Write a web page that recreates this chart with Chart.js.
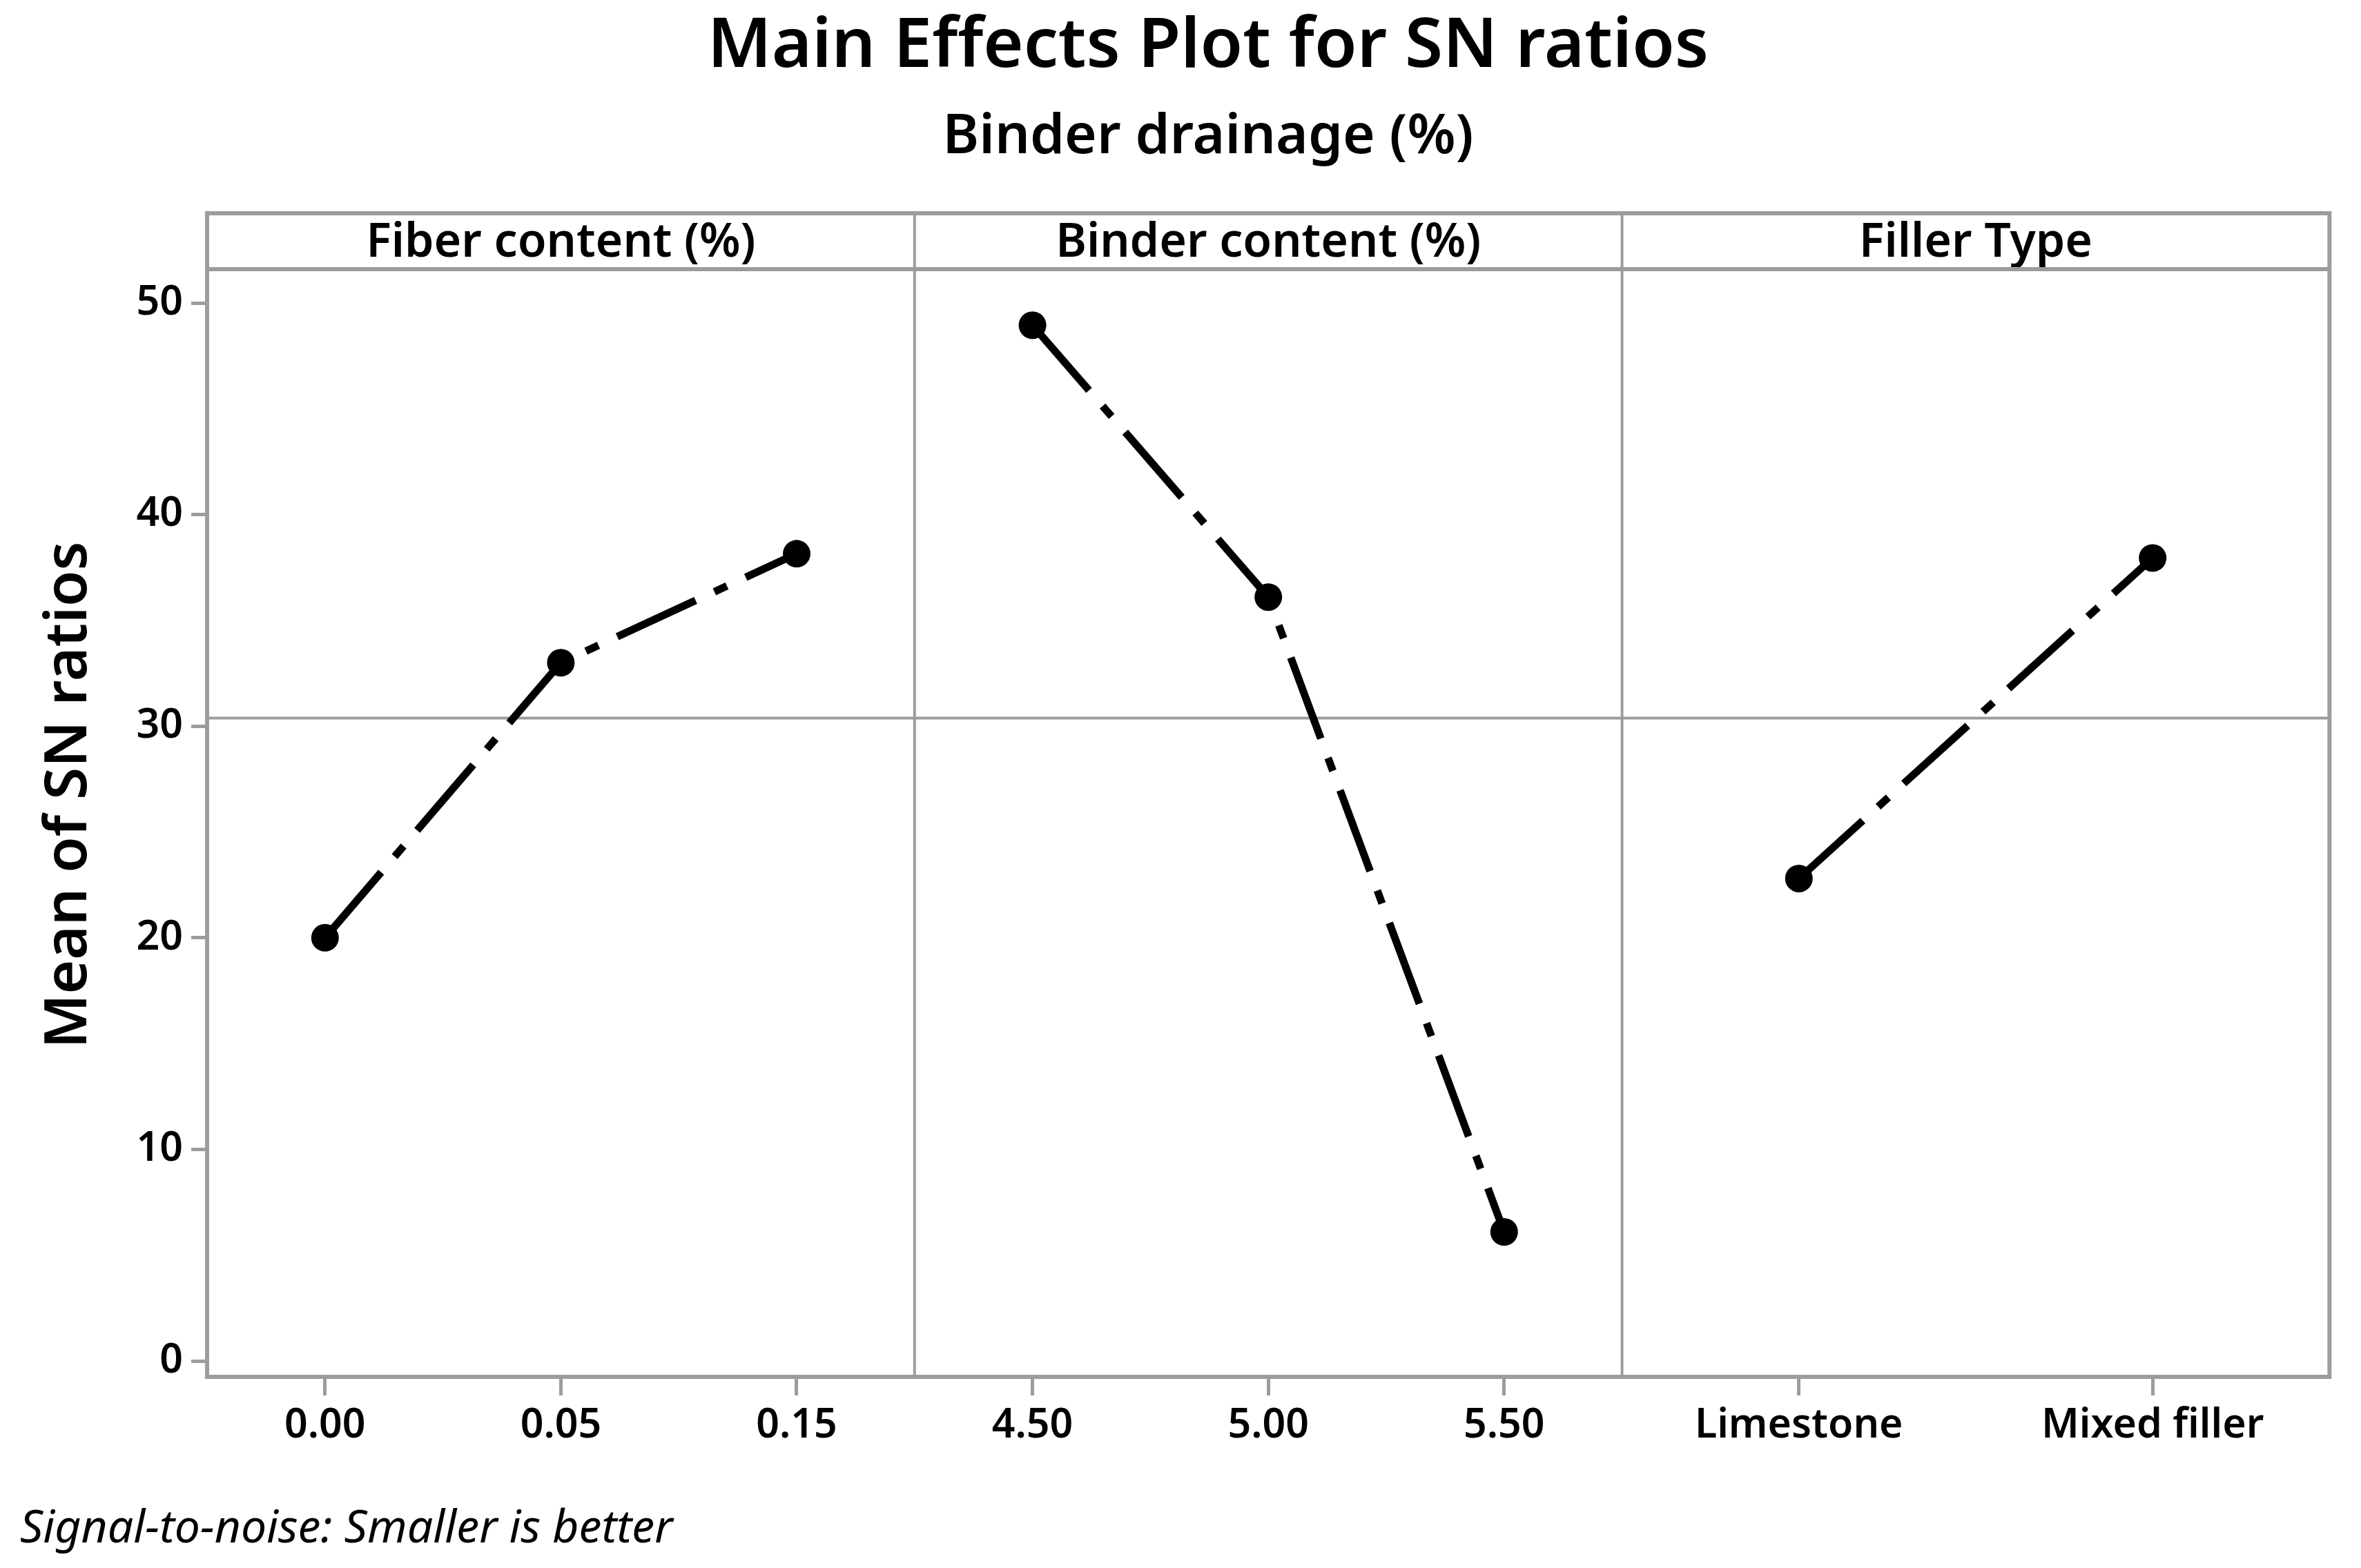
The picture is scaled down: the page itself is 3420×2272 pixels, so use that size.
<!DOCTYPE html>
<html>
<head>
<meta charset="utf-8">
<script src="https://cdn.jsdelivr.net/npm/chart.js@4.4.1/dist/chart.umd.min.js"></script>
<style>
  html, body { margin: 0; padding: 0; background: #fff; }
  #wrap { width: 3420px; height: 2272px; }
</style>
</head>
<body>
<div id="wrap"><canvas id="grafico" width="3420" height="2272"></canvas></div>
<script>
// niveis de cada fator
const fiberLevels = ['0.00', '0.05', '0.15'];
const binderLevels = ['4.50', '5.00', '5.50'];
const fillerLevels = ['Limestone', 'Mixed filler'];

// media das razoes SN em cada nivel
const fiberSN = [20.0, 33.0, 38.15];
const binderSN = [48.95, 36.1, 6.1];
const fillerSN = [22.8, 37.95];

const yTicks = [0, 10, 20, 30, 40, 50];
const factorNames = ['Fiber content (%)', 'Binder content (%)', 'Filler Type'];

const cinza = '#9c9c9c';
const fonte = '"Noto Sans", sans-serif';
const peso = 600;

const mediaDe = v => v.reduce((a, b) => a + b, 0) / v.length;
// linha de referencia = media geral
const media = (mediaDe(fiberSN) + mediaDe(binderSN) + mediaDe(fillerSN)) / 3;

function eixoBaixo(labels) {
    return {
        type: 'category', position: 'bottom', stack: 'fatores', labels: labels, offset: true,
        grid: { display: true, drawOnChartArea: false, offset: false, color: cinza, lineWidth: 5, tickLength: 27 },
        border: { display: true, color: cinza, width: 6 },
        ticks: { color: '#000', font: { family: fonte, size: 59, weight: peso }, padding: 9, maxRotation: 0, autoSkip: false },
        afterFit: s => { s.height = 157; }
    };
}

function eixoTopo(labels, nome) {
    return {
        type: 'category', position: 'top', stack: 'cabecalho', labels: labels, offset: true,
        grid: { display: false, drawTicks: false },
        border: { display: true, color: cinza, width: 6 },
        ticks: { display: false },
        title: { display: true, text: nome, color: '#000', font: { family: fonte, size: 68, weight: peso }, padding: { top: 3, bottom: 0 } },
        afterFit: s => { s.height = 81; }
    };
}

function serie(valores, eixo) {
    return {
        data: valores,
        xAxisID: eixo,
        yAxisID: 'y',
        borderColor: '#000',
        borderWidth: 11,
        borderDash: [125, 30, 20, 30],   // traco-ponto
        pointRadius: 20,
        pointHoverRadius: 20,
        pointBackgroundColor: '#000',
        pointBorderWidth: 0,
        tension: 0,
        fill: false
    };
}

// moldura, divisorias e linha da media
const moldura = {
    id: 'moldura',
    beforeDatasetsDraw(chart) {
        const { ctx, chartArea, scales } = chart;
        const topo = scales.xFibraTopo.top;
        const linha = (x1, y1, x2, y2) => { ctx.beginPath(); ctx.moveTo(x1, y1); ctx.lineTo(x2, y2); ctx.stroke(); };
        ctx.save();
        ctx.strokeStyle = cinza;
        ctx.lineWidth = 4;
        const yMedia = scales.y.getPixelForValue(media);
        linha(chartArea.left, yMedia, chartArea.right, yMedia);
        ['xFibra', 'xLigante'].forEach(id => linha(scales[id].right, topo, scales[id].right, chartArea.bottom));
        ctx.lineWidth = 6;
        ctx.strokeRect(chartArea.left, topo, chartArea.right - chartArea.left, chartArea.bottom - topo);
        ctx.restore();
    }
};

// titulo do eixo y (centrado na moldura toda, com cabecalho) e nota de rodape
const textosExtras = {
    id: 'textosExtras',
    afterDraw(chart) {
        const { ctx, chartArea, scales } = chart;
        const topo = scales.xFibraTopo.top;
        ctx.save();
        ctx.fillStyle = '#000';
        ctx.translate(101, (topo + chartArea.bottom) / 2);
        ctx.rotate(-Math.PI / 2);
        ctx.font = peso + ' 85px ' + fonte;
        ctx.textAlign = 'center';
        ctx.textBaseline = 'middle';
        ctx.fillText('Mean of SN ratios', 0, 0);
        ctx.restore();

        ctx.save();
        ctx.font = 'italic 66px ' + fonte;
        ctx.fillStyle = '#000';
        ctx.textBaseline = 'alphabetic';
        ctx.textAlign = 'left';
        ctx.fillText('Signal-to-noise: Smaller is better', 29, chart.height - 37);
        ctx.restore();
    }
};

const grafico = document.getElementById('grafico');

new Chart(grafico, {
    type: 'line',
    data: {
        datasets: [
            serie(fiberSN, 'xFibra'),
            serie(binderSN, 'xLigante'),
            serie(fillerSN, 'xFiler')
        ]
    },
    options: {
        responsive: false,
        devicePixelRatio: 1,
        animation: false,
        layout: { padding: { top: 0, left: 119, right: 39, bottom: 120 } },
        plugins: {
            legend: { display: false },
            tooltip: { enabled: false },
            title: {
                display: true,
                text: 'Main Effects Plot for SN ratios',
                color: '#000',
                font: { family: fonte, size: 100, weight: peso },
                padding: { top: 9, bottom: 0 }
            },
            subtitle: {
                display: true,
                text: 'Binder drainage (%)',
                color: '#000',
                font: { family: fonte, size: 80, weight: peso },
                padding: { top: 22, bottom: 62 }
            }
        },
        scales: {
            xFibra: eixoBaixo(fiberLevels),
            xLigante: eixoBaixo(binderLevels),
            xFiler: eixoBaixo(fillerLevels),
            // eixos do topo sao empilhados na ordem inversa
            xFilerTopo: eixoTopo(fillerLevels, factorNames[2]),
            xLiganteTopo: eixoTopo(binderLevels, factorNames[1]),
            xFibraTopo: eixoTopo(fiberLevels, factorNames[0]),
            y: {
                type: 'linear', position: 'left', min: -0.75, max: 51.6,
                afterBuildTicks: s => { s.ticks = yTicks.map(v => ({ value: v })); },
                grid: { drawOnChartArea: false, color: cinza, lineWidth: 5, tickLength: 23 },
                border: { display: true, color: cinza, width: 6 },
                ticks: { color: '#000', font: { family: fonte, size: 59, weight: peso }, padding: 12 },
                title: { display: false },
                afterFit: s => { s.width = 181; }
            }
        }
    },
    plugins: [moldura, textosExtras]
});
</script>
</body>
</html>
